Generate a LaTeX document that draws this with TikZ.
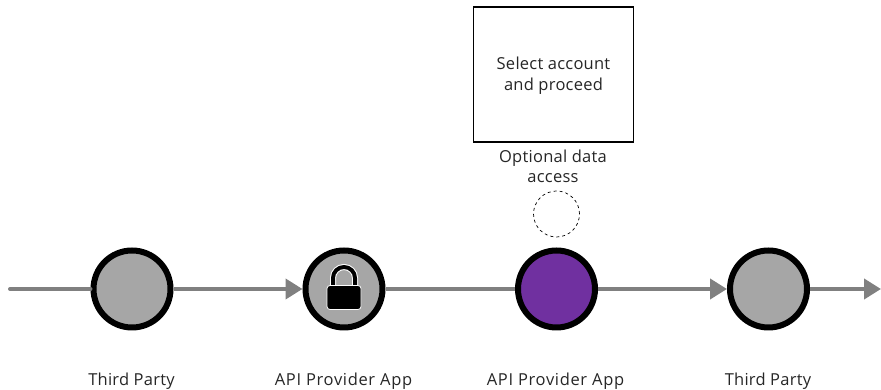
\documentclass[tikz,border=0pt]{standalone}
\usepackage{fontspec}
\setmainfont[LetterSpace=1.5]{Open Sans}
\usepackage{xcolor}
\usetikzlibrary{arrows.meta}
\definecolor{stepgray}{HTML}{A6A6A6}
\definecolor{linegray}{HTML}{808080}
\definecolor{steppurple}{HTML}{7030A0}
\tikzset{
  stepnode/.style={circle,draw=black,line width=6pt,fill=stepgray,minimum size=77pt,inner sep=0pt},
  flow/.style={draw=linegray,line width=4pt},
  flowtip/.style={flow,-{Triangle[length=17pt,width=20pt,fill=linegray]}},
  steplabel/.style={font=\fontsize{16.5pt}{20.5pt}\selectfont,text=black!85,align=center,inner sep=0pt},
  applabel/.style={steplabel,font=\fontsize{16.5pt}{20.5pt}\selectfont\addfontfeature{LetterSpace=4}},
}
\begin{document}
\begin{tikzpicture}[x=1pt,y=1pt]
  \useasboundingbox (0,0) rectangle (881,390);
  \coordinate (start) at (10,101);
  \coordinate (end) at (881,101);
  \node[stepnode] (tp1) at (132,101) {};
  \node[stepnode] (app1) at (344,101) {};
  \node[stepnode,fill=steppurple] (app2) at (556.5,101) {};
  \node[stepnode] (tp2) at (768.5,101) {};
  \draw[flow,line cap=round] (start) to (tp1.west);
  \draw[flowtip] (tp1.east) to (app1.west);
  \draw[flow] (app1.east) to (app2.west);
  \draw[flowtip] (app2.east) to (tp2.west);
  \draw[flowtip] (tp2.east) to (end);
  % padlock
  \draw[white,line width=6pt] (333,103) -- (333,112) arc (180:0:11) -- (355,103);
  \draw[black,line width=4pt] (333,103) -- (333,112) arc (180:0:11) -- (355,103);
  \draw[fill=black,draw=white,line width=.8pt,rounded corners=3pt] (327,80.5) rectangle (361,104.5);
  \node[draw=black,line width=1.5pt,minimum width=160pt,minimum height=135pt,inner sep=0pt,
        font=\fontsize{16.5pt}{21pt}\selectfont,text=black!85,align=center] (select) at (553.5,315.5)
        {\rule{0pt}{15pt}Select account\\and proceed};
  \node[steplabel] (optional) at (553,223.5) {Optional data\\access};
  \node[circle,draw=black,dashed,line width=0.7pt,minimum size=46pt,inner sep=0pt] (opt) at (556.5,176) {};
  \node[steplabel] (tp1l) at (131.5,9) {Third Party};
  \node[applabel] (app1l) at (343.5,9) {API Provider App};
  \node[applabel] (app2l) at (555.5,9) {API Provider App};
  \node[steplabel] (tp2l) at (768,9) {Third Party};
\end{tikzpicture}
\end{document}
